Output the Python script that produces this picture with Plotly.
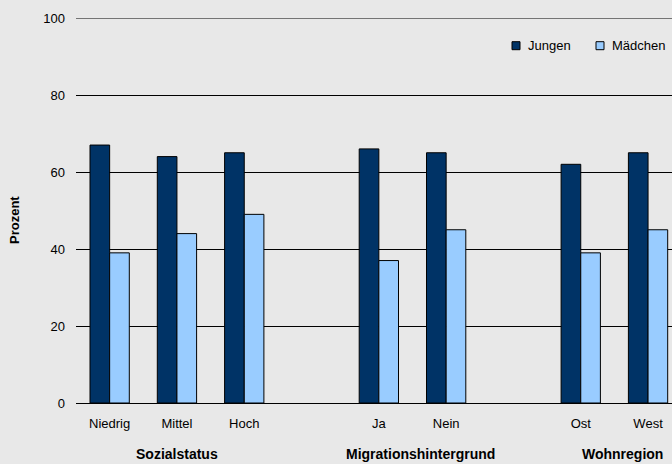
import plotly.graph_objects as go

# ---- data ----
group_names = ["Sozialstatus", "Migrationshintergrund", "Wohnregion"]
group_categories = [["Niedrig", "Mittel", "Hoch"], ["Ja", "Nein"], ["Ost", "West"]]
series_names = ["Jungen", "Mädchen"]
jungen = [67, 64, 65, 66, 65, 62, 65]
maedchen = [39, 44, 49, 37, 45, 39, 45]
y_ticks = [0, 20, 40, 60, 80, 100]

# ---- derive slot positions (one empty slot between groups) ----
categories, xpos, group_centers = [], [], []
p = 0
for cats in group_categories:
    start = p
    for c in cats:
        categories.append(c)
        xpos.append(p)
        p += 1
    group_centers.append((start + p - 1) / 2)
    p += 1

FONT = "Liberation Sans, Arial, sans-serif"
BG = "#e8e8e8"
colors = ["#003366", "#99ccff"]

fig = go.Figure()
for name, vals, col in zip(series_names, [jungen, maedchen], colors):
    fig.add_trace(go.Bar(x=xpos, y=vals, name=name, showlegend=False,
                         marker=dict(color=col, line=dict(color="#000000", width=1))))

L, R, T, B = 76, 0, 18, 61
W, H = 672, 464
plot_w, plot_h = W - L - R, H - T - B
slot_px = 67.3
x_max = plot_w / slot_px - 0.5


def px_x(px):
    return (px - L) / plot_w


def px_y(py):
    return (H - B - py) / plot_h


fig.update_layout(
    width=W, height=H,
    margin=dict(l=L, r=R, t=T, b=B, pad=0),
    paper_bgcolor=BG, plot_bgcolor=BG,
    barmode="group", bargap=0.416, bargroupgap=0,
    font=dict(family=FONT, size=13, color="#000000"),
    showlegend=False,
    xaxis=dict(range=[-0.5, x_max], tickvals=xpos, ticktext=categories,
               showgrid=False, zeroline=False, showline=False, ticks="",
               ticklabelstandoff=11, fixedrange=True),
    yaxis=dict(range=[0, 100], tickvals=y_ticks, showgrid=True, gridcolor="#000000",
               gridwidth=1, zeroline=True, zerolinecolor="#000000", zerolinewidth=1,
               showline=False, ticks="", ticklabelstandoff=10, fixedrange=True),
)

# top gridline at the range edge
fig.add_shape(type="line", xref="paper", yref="y", x0=0, x1=1, y0=y_ticks[-1], y1=y_ticks[-1],
              line=dict(color="#000000", width=1), layer="below")

# legend (drawn manually for small swatches)
legend_left = [512, 596]
ly = 45.7
for name, col, lx in zip(series_names, colors, legend_left):
    fig.add_shape(type="rect", xref="paper", yref="paper",
                  x0=px_x(lx), x1=px_x(lx + 8), y0=px_y(ly + 4), y1=px_y(ly - 4),
                  fillcolor=col, line=dict(color="#000000", width=1))
    fig.add_annotation(x=px_x(lx + 14), y=px_y(ly), xref="paper", yref="paper",
                       text=name, showarrow=False, xanchor="left", yanchor="middle",
                       font=dict(size=13, family=FONT))

for name, cx in zip(group_names, group_centers):
    fig.add_annotation(x=cx, y=px_y(454), xref="x", yref="paper",
                       text=f"<b>{name}</b>", showarrow=False, xanchor="center",
                       yanchor="middle", font=dict(size=14, family=FONT),
                       xshift=0 if name == "Sozialstatus" else 8)

fig.add_annotation(x=px_x(15), y=px_y(220),
                   xref="paper", yref="paper", text="<b>Prozent</b>", textangle=-90,
                   showarrow=False, xanchor="center", yanchor="middle",
                   font=dict(size=13, family=FONT))

fig.write_html("out.html", config={"displayModeBar": False},
               post_script="document.body.style.margin='0';document.body.style.overflow='hidden';")
